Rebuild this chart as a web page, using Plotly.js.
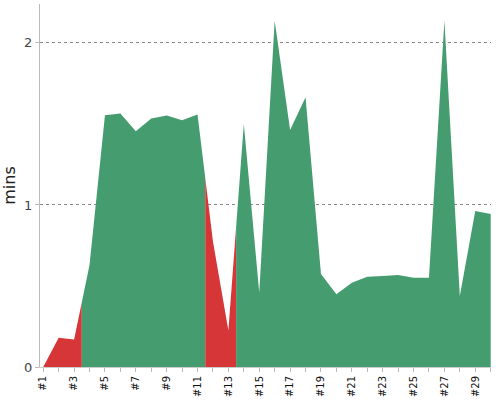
<!DOCTYPE html>
<html>
<head>
<meta charset="utf-8">
<script src="https://cdn.plot.ly/plotly-3.0.1.min.js"></script>
<style>
  html, body { margin: 0; padding: 0; background: #fff; }
  #chart { width: 500px; height: 400px; }
</style>
</head>
<body>
<div id="chart"></div>
<script>
// Categories (runs)
var categories = ['#1','#2','#3','#4','#5','#6','#7','#8','#9','#10',
                  '#11','#12','#13','#14','#15','#16','#17','#18','#19','#20',
                  '#21','#22','#23','#24','#25','#26','#27','#28','#29','#30'];
// Duration in minutes
var mins = [0, 0.18, 0.17, 0.63, 1.554, 1.565, 1.455, 1.534, 1.552, 1.523,
            1.558, 0.775, 0.225, 1.50, 0.459, 2.136, 1.463, 1.665, 0.574, 0.449,
            0.52, 0.557, 0.562, 0.568, 0.551, 0.551, 2.136, 0.438, 0.963, 0.944];
// Result of each run
var runStatus = ['fail','fail','fail','ok','ok','ok','ok','ok','ok','ok',
                 'ok','fail','fail','ok','ok','ok','ok','ok','ok','ok',
                 'ok','ok','ok','ok','ok','ok','ok','ok','ok','ok'];
// Tick labels (every other category shown)
var tickLabels = categories.map(function (c, i) { return i % 2 === 0 ? c : ''; });

var colors = { ok: '#459d6f', fail: '#d73639' };

var n = mins.length;
function yAt(x) {
  var i = Math.floor(x);
  if (i >= n - 1) return mins[n - 1];
  var f = x - i;
  return mins[i] + (mins[i + 1] - mins[i]) * f;
}

// build contiguous runs of same status
var traces = [];
var s = 0;
while (s < n) {
  var e = s;
  while (e + 1 < n && runStatus[e + 1] === runStatus[s]) e++;
  var x0 = Math.max(s - 0.5, 0), x1 = Math.min(e + 0.5, n - 1);
  var xs = [], ys = [];
  if (x0 < s) { xs.push(x0); ys.push(yAt(x0)); }
  for (var i = s; i <= e; i++) { xs.push(i); ys.push(mins[i]); }
  if (x1 > e) { xs.push(x1); ys.push(yAt(x1)); }
  traces.push({
    type: 'scatter', mode: 'lines', x: xs, y: ys,
    fill: 'tozeroy', fillcolor: colors[runStatus[s]],
    line: { width: 0, color: colors[runStatus[s]] },
    hoverinfo: 'skip', showlegend: false
  });
  s = e + 1;
}

var layout = {
  width: 500, height: 400,
  margin: { l: 40, r: 9, t: 4, b: 33 },
  paper_bgcolor: '#fff', plot_bgcolor: '#fff',
  font: { family: 'DejaVu Sans, sans-serif', color: '#444' },
  showlegend: false,
  xaxis: {
    range: [-0.21, 29.02],
    tickvals: categories.map(function (c, i) { return i; }),
    ticktext: tickLabels,
    tickangle: -90,
    tickfont: { size: 10, color: '#111' },
    ticks: 'outside', ticklen: 4, tickcolor: '#bbb',
    showgrid: false, zeroline: false,
    showline: true, linecolor: '#ccc', linewidth: 1
  },
  yaxis: {
    range: [0, 2.24],
    tickvals: [0, 1, 2],
    ticktext: ['0', '1', '2'],
    tickfont: { size: 13, color: '#444' },
    ticks: 'outside', ticklen: 4, tickcolor: '#bbb',
    showgrid: true, gridcolor: '#888', griddash: 'dot', gridwidth: 1,
    zeroline: false,
    showline: true, linecolor: '#bbb', linewidth: 1,
    title: { text: 'mins', font: { size: 16, color: '#222' }, standoff: 5 }
  }
};

Plotly.newPlot('chart', traces, layout, { staticPlot: true, displayModeBar: false });
</script>
</body>
</html>
